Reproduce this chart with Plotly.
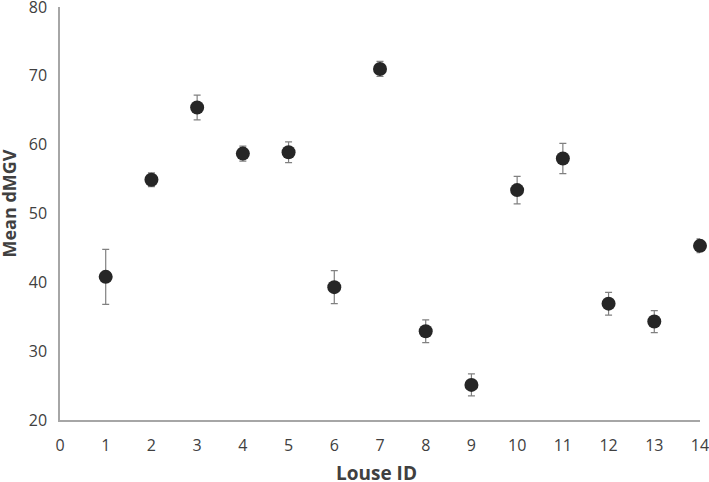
import plotly.graph_objects as go

# Mean dMGV per louse, with error bar half-widths
louse_id = [1, 2, 3, 4, 5, 6, 7, 8, 9, 10, 11, 12, 13, 14]
mean_dmgv = [40.8, 54.9, 65.4, 58.7, 58.9, 39.3, 71.0, 32.9, 25.1, 53.4, 58.0, 36.9, 34.3, 45.3]
err = [4.0, 1.0, 1.8, 1.1, 1.5, 2.4, 1.1, 1.65, 1.6, 2.0, 2.2, 1.65, 1.6, 1.0]

x_ticks = list(range(0, 15))
y_ticks = [20, 30, 40, 50, 60, 70, 80]

fig = go.Figure(go.Scatter(
    x=louse_id, y=mean_dmgv,
    mode="markers",
    marker=dict(size=14, color="#262626"),
    error_y=dict(type="data", array=err, visible=True,
                 color="#808080", thickness=1.2, width=3.5),
    cliponaxis=False,
    showlegend=False,
))

fig.update_layout(
    width=709, height=482,
    paper_bgcolor="white", plot_bgcolor="white",
    font=dict(family="Open Sans, sans-serif", color="#404040", size=16),
    margin=dict(l=60, r=9, t=7, b=62),
    xaxis=dict(
        range=[0, 14], tickvals=x_ticks, ticks="", showgrid=False, zeroline=False,
        showline=True, linecolor="#a6a6a6", linewidth=1.5,
        automargin=False, ticklabeloverflow="allow", ticklabelstandoff=10,
        tickfont=dict(size=16, color="#404040"),
    ),
    yaxis=dict(
        range=[20, 80], tickvals=y_ticks, ticks="", showgrid=False, zeroline=False,
        showline=True, linecolor="#a6a6a6", linewidth=1.5,
        automargin=False, ticklabeloverflow="allow", ticklabelstandoff=8,
        tickfont=dict(size=16, color="#404040"),
    ),
)

# axis titles as annotations so they can sit where the reference puts them
fig.add_annotation(text="<b>Louse ID</b>", xref="paper", yref="paper", x=0.494, y=0,
                   yshift=-53, showarrow=False, xanchor="center", yanchor="middle",
                   font=dict(size=19, color="#404040"))
fig.add_annotation(text="<b>Mean dMGV</b>", xref="paper", yref="paper", x=0, y=0.524,
                   xshift=-51, textangle=-90, showarrow=False, xanchor="center", yanchor="middle",
                   font=dict(size=18, color="#404040"))

# drop the default 8px body margin so the figure sits flush in the window
fig.write_html("out.html", config={"displayModeBar": False},
               post_script="document.body.style.margin='0px';")
